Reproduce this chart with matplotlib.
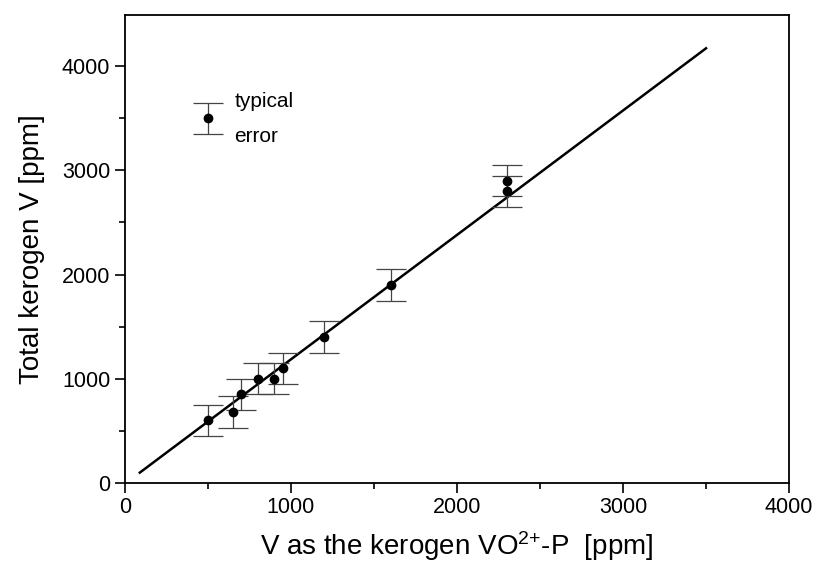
import numpy as np
import matplotlib
matplotlib.use("Agg")
import matplotlib.pyplot as plt
from matplotlib.ticker import MultipleLocator

plt.rcParams['font.family'] = ['Liberation Sans', 'DejaVu Sans']
plt.rcParams['mathtext.fontset'] = 'custom'
plt.rcParams['mathtext.rm'] = 'Liberation Sans'
plt.rcParams['mathtext.default'] = 'regular'

# measured points (V as VO2+-P, total kerogen V), ppm
vo_p = [500, 650, 700, 800, 900, 950, 1200, 1600, 2300, 2300]
total_v = [600, 680, 850, 1000, 1000, 1100, 1400, 1900, 2900, 2800]
err = 150

# typical error marker
typ_x, typ_y = 500, 3500

# fitted line
fit_x = [90, 3500]
slope, icpt = 1.195, -10

fig = plt.figure(figsize=(8.16, 5.64), dpi=100)
ax = fig.add_axes([0.153, 0.144, 0.814, 0.829])

fx = np.array(fit_x)
ax.plot(fx, slope * fx + icpt, color='black', lw=1.8, zorder=2)

ax.errorbar(vo_p, total_v, yerr=err, fmt='o', color='black', ms=6,
            ecolor='#444444', elinewidth=0.9, capsize=11, capthick=0.9, zorder=3)
ax.errorbar([typ_x], [typ_y], yerr=err, fmt='o', color='black', ms=6,
            ecolor='#444444', elinewidth=0.9, capsize=11, capthick=0.9)
ax.text(660, 3660, 'typical', fontsize=15, va='center', ha='left')
ax.text(660, 3330, 'error', fontsize=15, va='center', ha='left')

ax.set_xlim(0, 4000)
ax.set_ylim(0, 4490)
ax.xaxis.set_major_locator(MultipleLocator(1000))
ax.xaxis.set_minor_locator(MultipleLocator(500))
ax.yaxis.set_major_locator(MultipleLocator(1000))
ax.yaxis.set_minor_locator(MultipleLocator(500))
ax.tick_params(which='major', direction='out', length=7, width=1.2, labelsize=15.5)
ax.tick_params(which='minor', direction='out', length=4, width=1.2)
for s in ax.spines.values():
    s.set_linewidth(1.3)

ax.set_ylabel('Total kerogen V [ppm]', fontsize=20, labelpad=12)
ax.set_xlabel('V as the kerogen VO$^{2{+}}$-P  [ppm]', fontsize=20, labelpad=8)

fig.savefig('out.png', dpi=100)
